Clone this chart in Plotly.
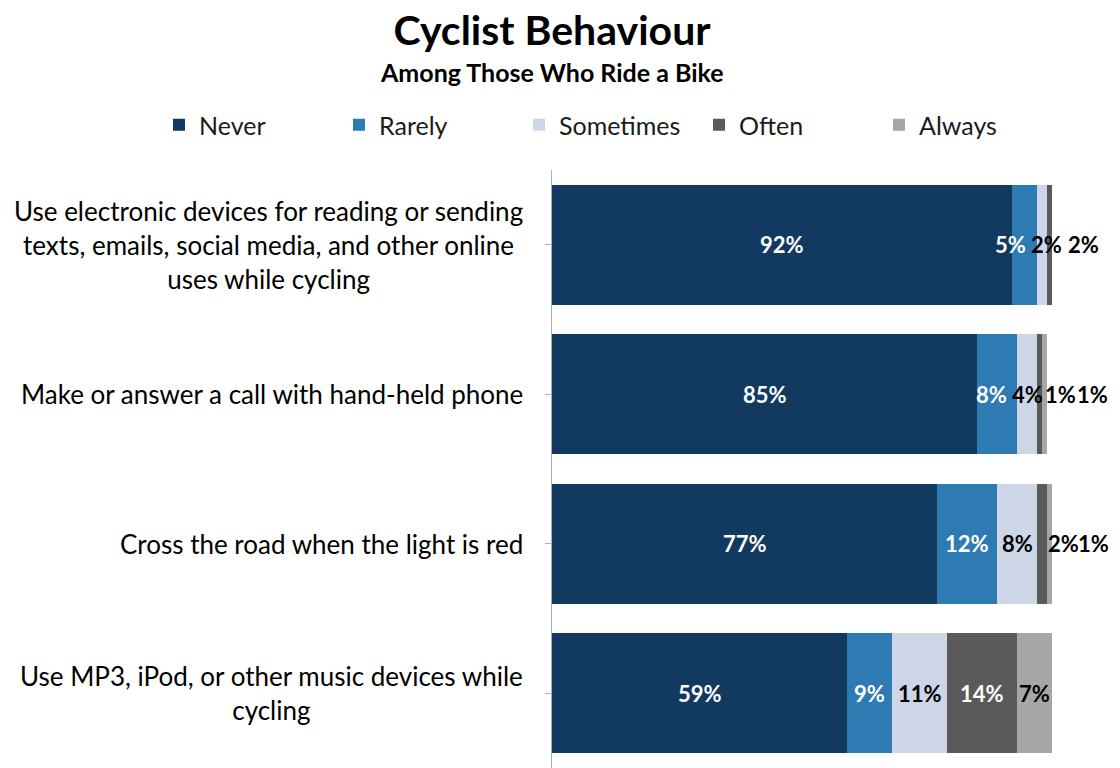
import plotly.graph_objects as go

# data
categories = [
    "Use electronic devices for reading or sending<br>texts, emails, social media, and other online<br>uses while cycling",
    "Make or answer a call with hand-held phone",
    "Cross the road when the light is red",
    "Use MP3, iPod, or other music devices while<br>cycling",
]
responses = ["Never", "Rarely", "Sometimes", "Often", "Always"]
never = [92, 85, 77, 59]
rarely = [5, 8, 12, 9]
sometimes = [2, 4, 8, 11]
often = [2, 1, 2, 14]
always = [0, 1, 1, 7]

series = [never, rarely, sometimes, often, always]
colors = ["#12395F", "#2E7BB3", "#CDD6E6", "#5A5A5A", "#A6A6A6"]
# label colour per series / row (white on dark fills)
label_colors = [
    ["white"] * 4,
    ["white"] * 4,
    ["black"] * 4,
    ["black", "black", "black", "white"],
    ["black"] * 4,
]
# pixel nudges for crowded labels (style only)
label_shift = [
    [0, 0, 0, 0],
    [-14, -6, 0, 0],
    [4, 0, 0, 0],
    [31, 21, 21, 0],
    [0, 48, 44, 0],
]

ys = list(range(len(categories)))

# page body has an 8px margin, so the figure is 8px smaller
W, H = 1112, 760
left, top = 544, 162

fig = go.Figure()
for name, vals, col in zip(responses, series, colors):
    fig.add_trace(go.Bar(
        y=ys,
        x=vals,
        name=name,
        orientation='h',
        marker=dict(color=col, line=dict(width=0)),
        hoverinfo='x+name',
    ))

# data labels
for s, vals in enumerate(series):
    for i, v in enumerate(vals):
        if v == 0:
            continue
        start = sum(series[k][i] for k in range(s))
        fig.add_annotation(
            x=start + v / 2, y=ys[i], xref='x', yref='y',
            text=f"<b>{v}%</b>", showarrow=False,
            xshift=label_shift[s][i],
            font=dict(size=22, color=label_colors[s][i], family="Lato"),
        )

# category labels
for i, cat in enumerate(categories):
    fig.add_annotation(
        x=0, y=ys[i], xref='paper', yref='y',
        xanchor='right', xshift=-27, align='center',
        text=cat, showarrow=False,
        font=dict(size=26, color="black", family="Lato"),
    )

# subtitle
fig.add_annotation(
    x=0, y=1 + (top - 64) / (H - top), xref='paper', yref='paper',
    xanchor='center', yanchor='middle',
    text="<b>Among Those Who Ride a Bike</b>", showarrow=False,
    font=dict(size=25, color="black", family="Lato"),
)

fig.update_layout(
    barmode='stack',
    bargap=0.2,
    width=W,
    height=H,
    margin=dict(l=left, r=68, t=top, b=0, autoexpand=False),
    plot_bgcolor='white',
    paper_bgcolor='white',
    font=dict(family="Lato", size=20, color="black"),
    title=dict(
        text="<b>Cyclist Behaviour</b>",
        x=left / W, xanchor='center', xref='container',
        y=1 - 23 / H, yanchor='middle', yref='container',
        font=dict(size=41, family="Lato", color="black"),
    ),
    legend=dict(
        orientation='h', x=(151 - left) / 500, xanchor='left', xref='paper',
        y=1 + (top - 117) / (H - top), yanchor='middle', yref='paper',
        font=dict(size=25, color="#1a1a1a"),
        entrywidth=135, entrywidthmode='pixels', traceorder='normal',
        bgcolor='rgba(0,0,0,0)',
    ),
    showlegend=True,
)

fig.update_xaxes(range=[0, 100], visible=False, fixedrange=True)
fig.update_yaxes(
    autorange='reversed', showticklabels=False, showline=True,
    linecolor='#B0B0B0', linewidth=1, ticks='outside', tickson='boundaries',
    ticklen=6, tickcolor='#B0B0B0', showgrid=False, zeroline=False,
    tickvals=ys,
)

fig.write_html("out.html")
